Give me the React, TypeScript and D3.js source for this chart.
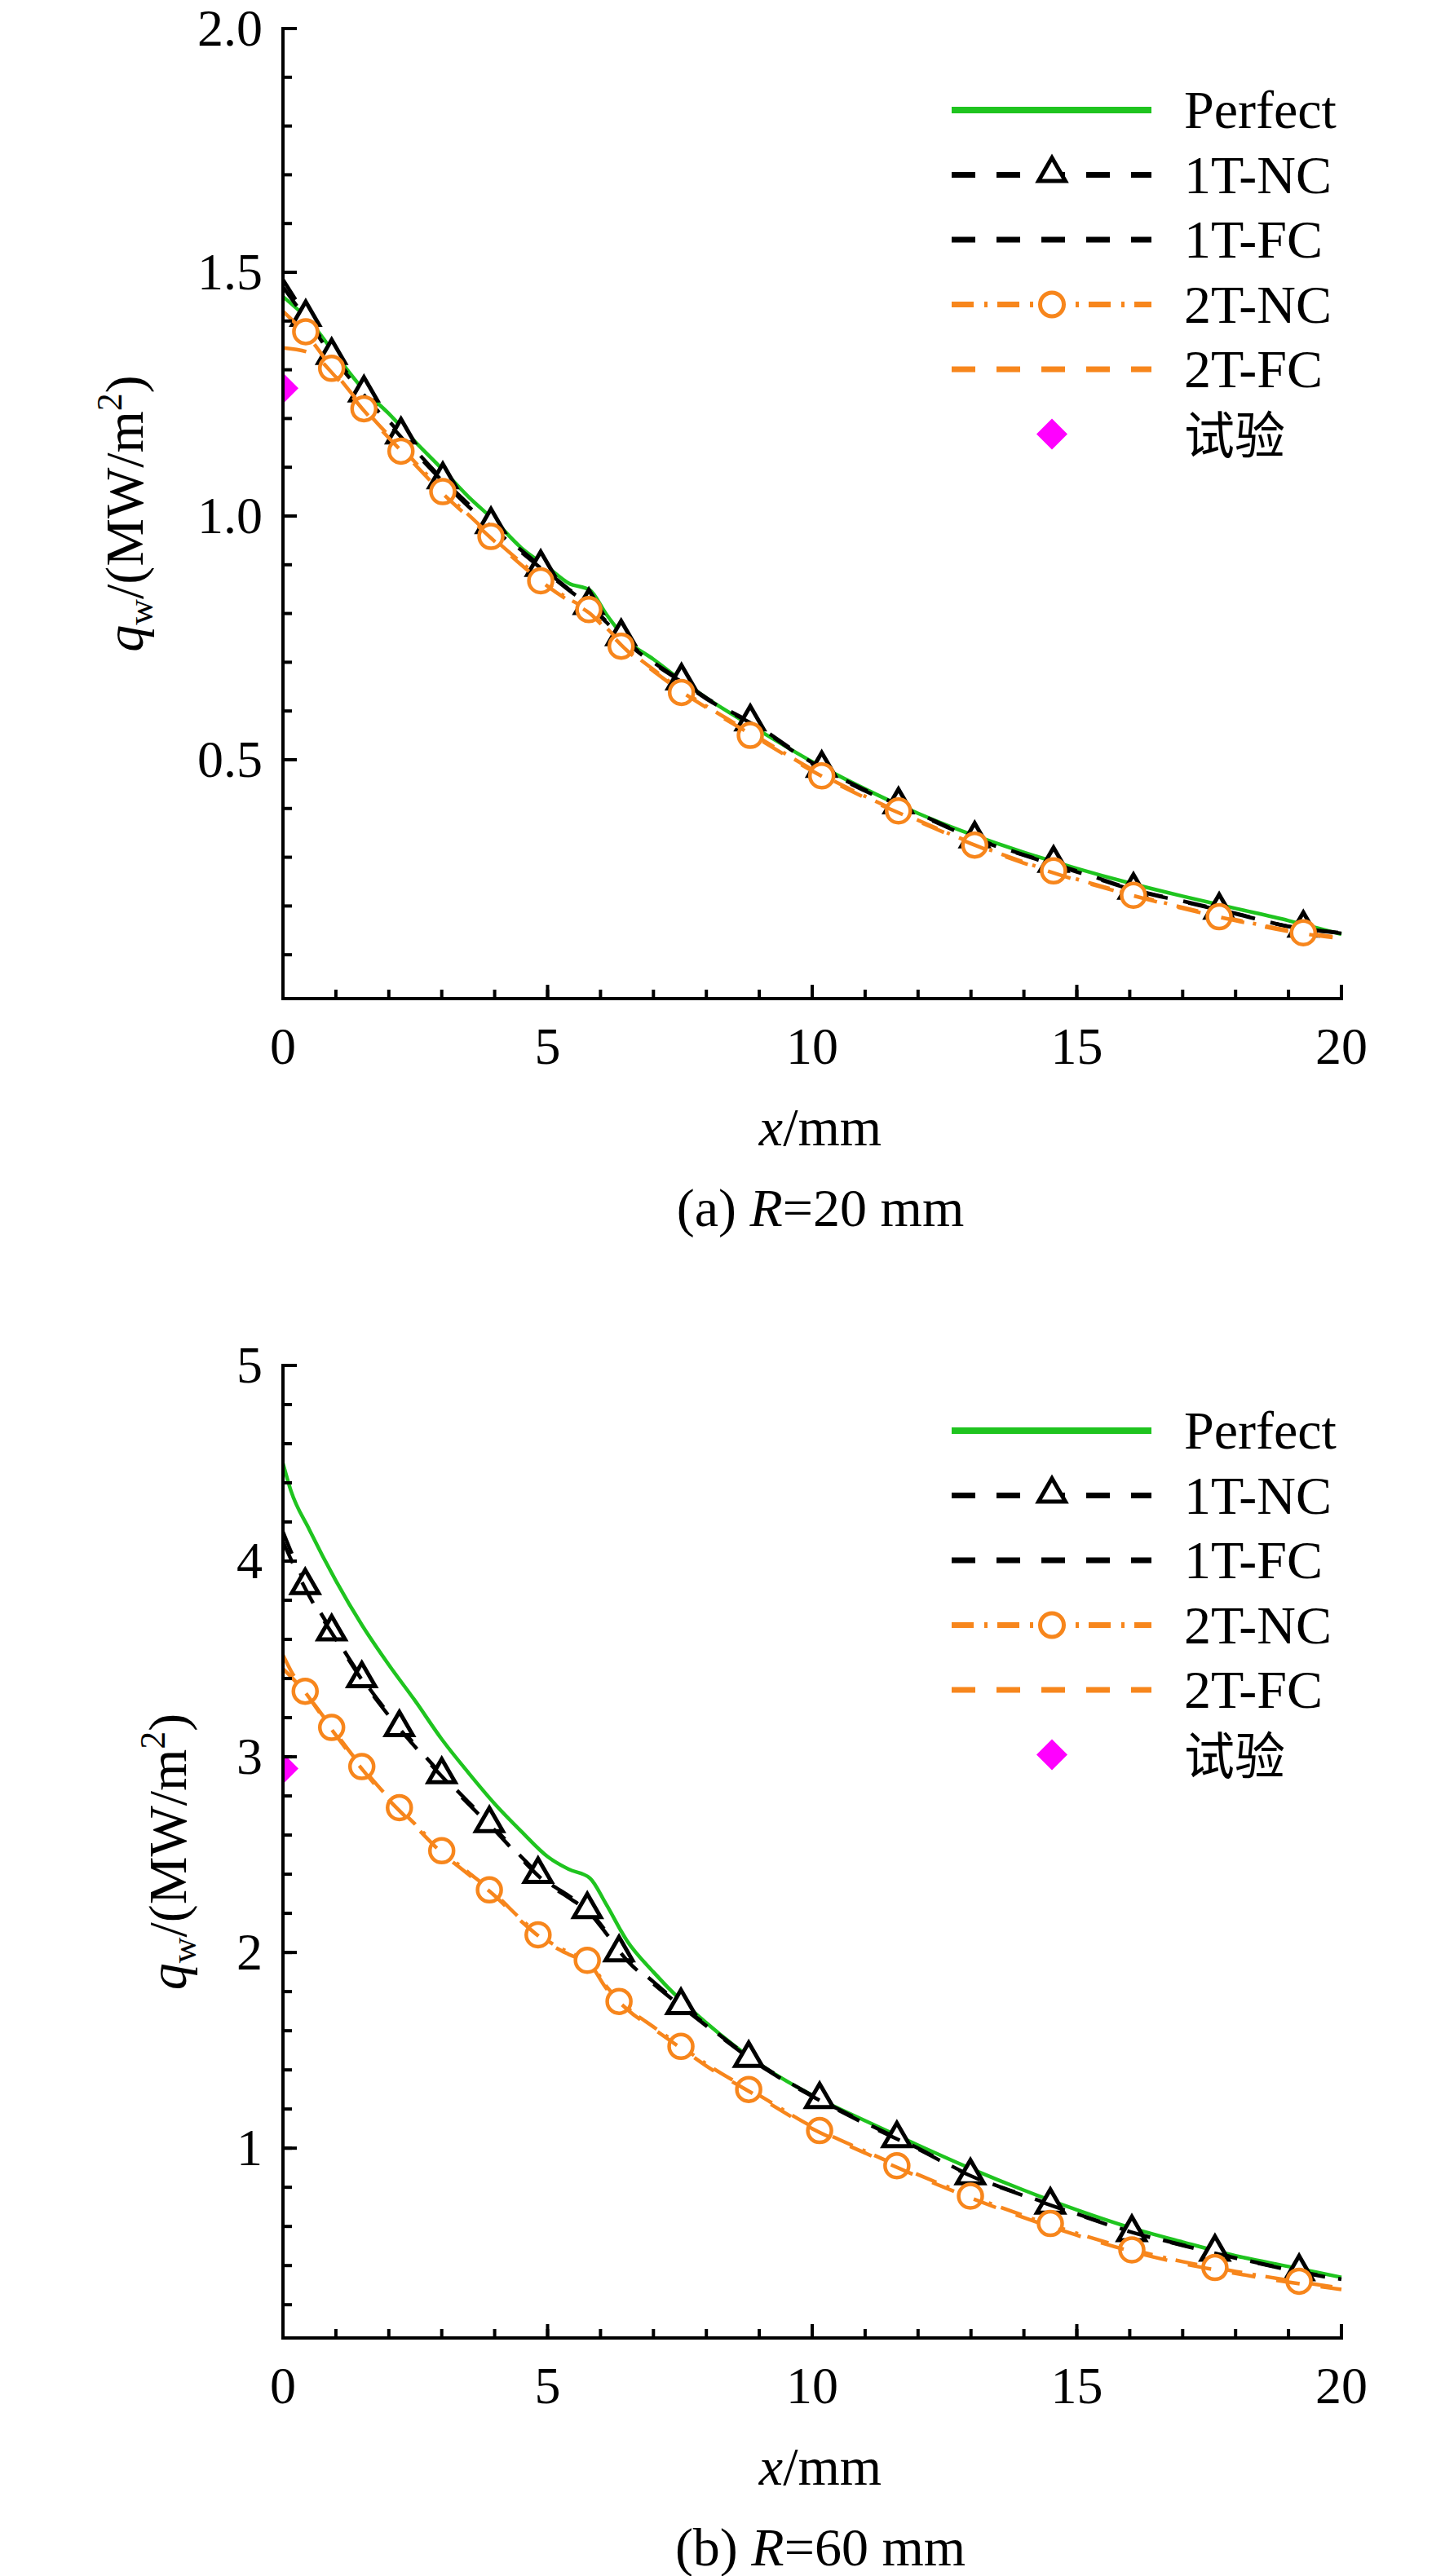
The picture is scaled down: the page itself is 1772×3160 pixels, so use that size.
import { useEffect, useRef } from 'react';
import * as d3 from 'd3';

const W = 1772;
const H = 3160;

const seriesNames = ['Perfect', '1T-NC', '1T-FC', '2T-NC', '2T-FC', '试验'];
const xTicks = [0, 5, 10, 15, 20];

// (a) R=20 mm
const yTicksA = [0.5, 1.0, 1.5, 2.0];
const gridA = [0, 0.5, 1, 1.5, 2, 2.5, 3, 3.5, 4, 4.5, 5, 5.4, 5.8, 6.1, 6.5, 7, 7.5, 8, 9, 10, 11, 12, 13, 14, 15, 16, 17, 18, 19, 20];
const perfectA = [1.45, 1.4, 1.33, 1.262, 1.21, 1.152, 1.097, 1.04, 0.99, 0.935, 0.895, 0.862, 0.848, 0.8, 0.745, 0.706, 0.665, 0.627, 0.56, 0.496, 0.44, 0.39, 0.347, 0.31, 0.277, 0.247, 0.22, 0.195, 0.17, 0.142];
const nc1A = [1.485, 1.4, 1.322, 1.257, 1.195, 1.135, 1.077, 1.025, 0.976, 0.93, 0.885, 0.85, 0.817, 0.785, 0.742, 0.7, 0.664, 0.627, 0.567, 0.494, 0.438, 0.39, 0.342, 0.305, 0.272, 0.236, 0.21, 0.185, 0.158, 0.145];
const fc1A = [1.47, 1.395, 1.318, 1.252, 1.19, 1.13, 1.073, 1.02, 0.972, 0.926, 0.882, 0.848, 0.815, 0.783, 0.74, 0.698, 0.662, 0.625, 0.565, 0.492, 0.436, 0.388, 0.341, 0.304, 0.27, 0.235, 0.209, 0.184, 0.158, 0.144];
const nc2A = [1.42, 1.365, 1.292, 1.225, 1.165, 1.11, 1.053, 1.003, 0.952, 0.905, 0.86, 0.83, 0.805, 0.772, 0.728, 0.685, 0.645, 0.61, 0.545, 0.48, 0.425, 0.376, 0.33, 0.29, 0.255, 0.225, 0.197, 0.172, 0.15, 0.135];
const fc2A = [1.345, 1.335, 1.285, 1.22, 1.16, 1.105, 1.048, 0.998, 0.948, 0.9, 0.856, 0.826, 0.8, 0.768, 0.724, 0.682, 0.642, 0.607, 0.542, 0.477, 0.422, 0.374, 0.328, 0.288, 0.253, 0.223, 0.195, 0.17, 0.148, 0.133];
const markXA = [0.43, 0.92, 1.53, 2.23, 3.02, 3.93, 4.87, 5.78, 6.39, 7.53, 8.83, 10.18, 11.63, 13.07, 14.56, 16.07, 17.69, 19.28];
const triA = [1.408, 1.33, 1.253, 1.167, 1.075, 0.983, 0.895, 0.817, 0.753, 0.662, 0.578, 0.483, 0.408, 0.338, 0.288, 0.233, 0.192, 0.155];
const circA = [1.378, 1.303, 1.22, 1.133, 1.05, 0.958, 0.867, 0.808, 0.733, 0.638, 0.55, 0.467, 0.395, 0.325, 0.272, 0.222, 0.178, 0.145];
const expXA = [0];
const expYA = [1.262];

// (b) R=60 mm
const yTicksB = [1, 2, 3, 4, 5];
const gridB = [0, 0.15, 0.5, 1, 1.5, 2, 2.5, 3, 3.5, 4, 4.5, 5, 5.4, 5.8, 6.1, 6.5, 7, 7.5, 8, 9, 10, 11, 12, 13, 14, 15, 16, 17, 18, 19, 20];
const perfectB = [4.5, 4.36, 4.16, 3.9, 3.67, 3.47, 3.285, 3.09, 2.92, 2.76, 2.62, 2.49, 2.425, 2.38, 2.25, 2.06, 1.9, 1.76, 1.64, 1.43, 1.27, 1.14, 1.015, 0.895, 0.785, 0.685, 0.595, 0.52, 0.45, 0.395, 0.34];
const nc1B = [4.15, 4.05, 3.84, 3.61, 3.4, 3.22, 3.06, 2.91, 2.77, 2.635, 2.49, 2.36, 2.29, 2.21, 2.11, 1.97, 1.85, 1.735, 1.63, 1.43, 1.27, 1.13, 1.0, 0.86, 0.76, 0.665, 0.575, 0.505, 0.44, 0.38, 0.33];
const fc1B = [4.1, 4.01, 3.82, 3.6, 3.39, 3.21, 3.05, 2.9, 2.76, 2.625, 2.48, 2.35, 2.28, 2.2, 2.1, 1.96, 1.84, 1.73, 1.625, 1.425, 1.265, 1.125, 0.995, 0.858, 0.757, 0.662, 0.573, 0.503, 0.438, 0.378, 0.328];
const nc2B = [3.45, 3.41, 3.3, 3.12, 2.945, 2.79, 2.655, 2.52, 2.41, 2.3, 2.17, 2.06, 2.0, 1.95, 1.83, 1.72, 1.62, 1.525, 1.43, 1.27, 1.11, 0.985, 0.865, 0.755, 0.655, 0.565, 0.485, 0.42, 0.37, 0.325, 0.285];
const fc2B = [3.52, 3.44, 3.3, 3.11, 2.935, 2.78, 2.645, 2.51, 2.4, 2.29, 2.16, 2.05, 1.99, 1.94, 1.82, 1.71, 1.61, 1.515, 1.42, 1.26, 1.1, 0.975, 0.855, 0.745, 0.645, 0.555, 0.475, 0.41, 0.36, 0.315, 0.278];
const markXB = [0.42, 0.92, 1.49, 2.2, 3.0, 3.9, 4.82, 5.75, 6.35, 7.52, 8.8, 10.14, 11.6, 12.99, 14.5, 16.04, 17.61, 19.2];
const triB = [3.876, 3.64, 3.4, 3.15, 2.91, 2.66, 2.4, 2.22, 2.0, 1.73, 1.46, 1.25, 1.05, 0.86, 0.71, 0.57, 0.47, 0.37];
const circB = [3.335, 3.15, 2.95, 2.74, 2.52, 2.32, 2.09, 1.96, 1.75, 1.52, 1.3, 1.09, 0.91, 0.755, 0.615, 0.48, 0.39, 0.32];
const expXB = [0];
const expYB = [2.94];

const GREEN = '#1fc41f';
const ORANGE = '#f7861c';
const MAGENTA = '#ff00ff';
const SERIF = "'Liberation Serif', 'Times New Roman', serif";
const CJK = "'Noto Sans CJK SC', sans-serif";
const DASH = '29,26';
const DASHDOT = '27,13,4,12';

const X0 = 347;
const X1 = 1645;

interface PanelCfg {
  key: string;
  top: number;
  bottom: number;
  yDomain: [number, number];
  yTicks: number[];
  yMinor: number;
  yFmt: (v: number) => string;
  titleX: number;
  legendTop: number;
  caption: [string, string];
  grid: number[];
  perfect: number[];
  nc1: number[];
  fc1: number[];
  nc2: number[];
  fc2: number[];
  markX: number[];
  tri: number[];
  circ: number[];
  expX: number[];
  expY: number[];
}

const panels: PanelCfg[] = [
  {
    key: 'a', top: 35, bottom: 1225, yDomain: [0.01, 2.0], yTicks: yTicksA, yMinor: 0.1,
    yFmt: d3.format('.1f'), titleX: 153, legendTop: 100, caption: ['(a) ', '20'],
    grid: gridA, perfect: perfectA, nc1: nc1A, fc1: fc1A, nc2: nc2A, fc2: fc2A,
    markX: markXA, tri: triA, circ: circA, expX: expXA, expY: expYA,
  },
  {
    key: 'b', top: 1675, bottom: 2868, yDomain: [0.03, 5], yTicks: yTicksB, yMinor: 0.2,
    yFmt: d3.format('d'), titleX: 206, legendTop: 80, caption: ['(b) ', '60'],
    grid: gridB, perfect: perfectB, nc1: nc1B, fc1: fc1B, nc2: nc2B, fc2: fc2B,
    markX: markXB, tri: triB, circ: circB, expX: expXB, expY: expYB,
  },
];

const triSym = d3.symbol().type(d3.symbolTriangle).size(470);
const diaSym = d3.symbol().type(d3.symbolSquare).size(720);

function drawPanel(root: d3.Selection<SVGSVGElement, unknown, null, undefined>, p: PanelCfg) {
  const x = d3.scaleLinear().domain([0, 20]).range([X0, X1]);
  const y = d3.scaleLinear().domain(p.yDomain).range([p.bottom, p.top]);
  const g = root.append('g');

  const clipId = `clip-${p.key}`;
  g.append('clipPath')
    .attr('id', clipId)
    .append('rect')
    .attr('x', X0)
    .attr('y', p.top - 60)
    .attr('width', X1 - X0 + 40)
    .attr('height', p.bottom - p.top + 60);

  const data = g.append('g').attr('clip-path', `url(#${clipId})`);

  const line = (vals: number[]) =>
    d3
      .line<number>()
      .x((_, i) => x(p.grid[i]))
      .y((d) => y(d))
      .curve(d3.curveMonotoneX)(vals);

  // zones in Tecplot order: line then its symbols
  data.append('path').attr('d', line(p.perfect)).attr('fill', 'none').attr('stroke', GREEN).attr('stroke-width', 4.5);

  data.append('path').attr('d', line(p.nc1)).attr('fill', 'none').attr('stroke', '#000').attr('stroke-width', 4.5).attr('stroke-dasharray', DASH);
  data
    .selectAll('.tri')
    .data(p.tri)
    .enter()
    .append('path')
    .attr('d', triSym)
    .attr('transform', (d, i) => `translate(${x(p.markX[i])},${y(d)})`)
    .attr('fill', '#fff')
    .attr('stroke', '#000')
    .attr('stroke-width', 5);

  data.append('path').attr('d', line(p.fc1)).attr('fill', 'none').attr('stroke', '#000').attr('stroke-width', 4.5).attr('stroke-dasharray', DASH);

  data.append('path').attr('d', line(p.nc2)).attr('fill', 'none').attr('stroke', ORANGE).attr('stroke-width', 4.5).attr('stroke-dasharray', DASHDOT);
  data
    .selectAll('.circ')
    .data(p.circ)
    .enter()
    .append('circle')
    .attr('cx', (_, i) => x(p.markX[i]))
    .attr('cy', (d) => y(d))
    .attr('r', 14.5)
    .attr('fill', '#fff')
    .attr('stroke', ORANGE)
    .attr('stroke-width', 4.5);

  data.append('path').attr('d', line(p.fc2)).attr('fill', 'none').attr('stroke', ORANGE).attr('stroke-width', 4.5).attr('stroke-dasharray', DASH);

  data
    .selectAll('.exp')
    .data(p.expY)
    .enter()
    .append('path')
    .attr('d', diaSym)
    .attr('transform', (d, i) => `translate(${x(p.expX[i])},${y(d)}) rotate(45)`)
    .attr('fill', MAGENTA);

  // Osi
  const axis = g.append('g').attr('stroke', '#000').attr('stroke-width', 4).attr('stroke-linecap', 'square');
  axis.append('line').attr('x1', X0).attr('x2', X0).attr('y1', p.bottom).attr('y2', p.top);
  axis.append('line').attr('x1', X0).attr('x2', X1).attr('y1', p.bottom).attr('y2', p.bottom);

  const yMinor = d3.range(p.yMinor, p.yDomain[1] + 1e-6, p.yMinor).filter((v) => v >= p.yDomain[0]);
  axis
    .selectAll('.ymin')
    .data(yMinor)
    .enter()
    .append('line')
    .attr('x1', X0)
    .attr('x2', X0 + 11)
    .attr('y1', (d) => y(d))
    .attr('y2', (d) => y(d))
    .attr('stroke-linecap', 'butt');
  axis
    .selectAll('.ymaj')
    .data(p.yTicks)
    .enter()
    .append('line')
    .attr('x1', X0)
    .attr('x2', X0 + 17)
    .attr('y1', (d) => y(d))
    .attr('y2', (d) => y(d))
    .attr('stroke-linecap', 'butt');

  const xMinor = d3.range(1, 20, 1);
  axis
    .selectAll('.xmin')
    .data(xMinor)
    .enter()
    .append('line')
    .attr('x1', (d) => x(d))
    .attr('x2', (d) => x(d))
    .attr('y1', p.bottom)
    .attr('y2', p.bottom - 11)
    .attr('stroke-linecap', 'butt');
  axis
    .selectAll('.xmaj')
    .data(xTicks.slice(1))
    .enter()
    .append('line')
    .attr('x1', (d) => x(d))
    .attr('x2', (d) => x(d))
    .attr('y1', p.bottom)
    .attr('y2', p.bottom - 17)
    .attr('stroke-linecap', 'butt');

  g.selectAll('.ylab')
    .data(p.yTicks)
    .enter()
    .append('text')
    .attr('x', 322)
    .attr('y', (d) => y(d) + 21)
    .attr('text-anchor', 'end')
    .style('font-family', SERIF)
    .style('font-size', '64px')
    .text((d) => p.yFmt(d));

  g.selectAll('.xlab')
    .data(xTicks)
    .enter()
    .append('text')
    .attr('x', (d) => x(d))
    .attr('y', p.bottom + 80)
    .attr('text-anchor', 'middle')
    .style('font-family', SERIF)
    .style('font-size', '64px')
    .text((d) => String(d));

  // Naslovi
  const cx = (X0 + X1) / 2 + 10;
  const xt = g.append('text').attr('x', cx).attr('y', p.bottom + 180).attr('text-anchor', 'middle').style('font-family', SERIF).style('font-size', '66px');
  xt.append('tspan').style('font-style', 'italic').text('x');
  xt.append('tspan').text('/mm');

  const cap = g.append('text').attr('x', cx).attr('y', p.bottom + 279).attr('text-anchor', 'middle').style('font-family', SERIF).style('font-size', '66px');
  cap.append('tspan').text(p.caption[0]);
  cap.append('tspan').style('font-style', 'italic').text('R');
  cap.append('tspan').text(`=${p.caption[1]} mm`);

  const yt = g
    .append('text')
    .attr('transform', `translate(${p.titleX},${(p.top + p.bottom) / 2}) rotate(-90)`)
    .attr('text-anchor', 'middle')
    .style('font-family', SERIF)
    .style('font-size', '66px');
  yt.append('tspan').attr('dy', 22).style('font-style', 'italic').text('q');
  yt.append('tspan').attr('dy', 12).style('font-size', '44px').text('w');
  yt.append('tspan').attr('dy', -12).text('/(MW/m');
  yt.append('tspan').attr('dy', -26).style('font-size', '44px').text('2');
  yt.append('tspan').attr('dy', 26).text(')');

  // Legenda
  const lx0 = 1167;
  const lx1 = 1412;
  const lmid = 1290;
  const rowY = (i: number) => p.top + p.legendTop + i * 79.5;
  const leg = g.append('g');
  const styles = [
    { stroke: GREEN, dash: null, width: 8 },
    { stroke: '#000', dash: DASH, width: 7 },
    { stroke: '#000', dash: DASH, width: 7 },
    { stroke: ORANGE, dash: DASHDOT, width: 7 },
    { stroke: ORANGE, dash: DASH, width: 7 },
  ];
  styles.forEach((s, i) => {
    const l = leg
      .append('line')
      .attr('x1', lx0)
      .attr('x2', lx1)
      .attr('y1', rowY(i))
      .attr('y2', rowY(i))
      .attr('stroke', s.stroke)
      .attr('stroke-width', s.width);
    if (s.dash) l.attr('stroke-dasharray', s.dash);
  });
  leg.append('path').attr('d', triSym).attr('transform', `translate(${lmid},${rowY(1) - 2})`).attr('fill', '#fff').attr('stroke', '#000').attr('stroke-width', 5);
  leg.append('circle').attr('cx', lmid).attr('cy', rowY(3)).attr('r', 14.5).attr('fill', '#fff').attr('stroke', ORANGE).attr('stroke-width', 5);
  leg.append('path').attr('d', diaSym).attr('transform', `translate(${lmid},${rowY(5)}) rotate(45)`).attr('fill', MAGENTA);

  seriesNames.forEach((name, i) => {
    leg
      .append('text')
      .attr('x', 1452)
      .attr('y', rowY(i) + (i === 5 ? 24 : 22))
      .style('font-family', i === 5 ? CJK : SERIF)
      .style('font-size', i === 5 ? '62px' : '66px')
      .text(name);
  });
}

export default function App() {
  const svgRef = useRef<SVGSVGElement>(null);

  useEffect(() => {
    document.body.style.margin = '0';
    if (!svgRef.current) return;
    const svg = d3.select(svgRef.current);
    svg.selectAll('*').remove();
    svg.append('rect').attr('width', W).attr('height', H).attr('fill', '#fff');
    panels.forEach((p) => drawPanel(svg, p));
  }, []);

  return <svg ref={svgRef} width={W} height={H} style={{ display: 'block' }} />;
}
